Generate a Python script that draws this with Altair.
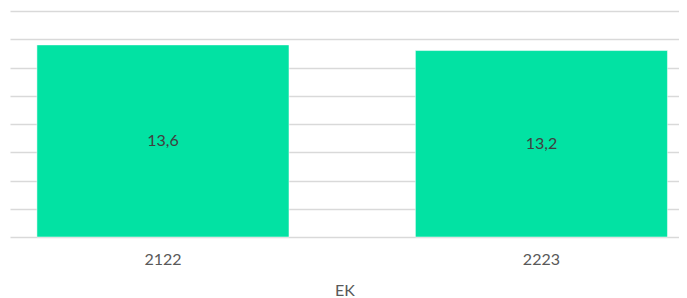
import altair as alt
import pandas as pd

categories = ["2122", "2223"]
values = [13.6, 13.2]
labels = ["13,6", "13,2"]
grid_values = [0, 2, 4, 6, 8, 10, 12, 14, 16]

df = pd.DataFrame({"cat": categories, "val": values, "label": labels})

FONT = "Lato"
YSCALE = alt.Scale(domain=[0, 16], nice=False)
YAXIS = alt.Axis(
    title=None,
    labels=False,
    ticks=False,
    domain=False,
    grid=True,
    gridColor="#D9D9D9",
    gridWidth=1.5,
    values=grid_values,
)

base = alt.Chart(df).encode(
    x=alt.X(
        "cat:N",
        title="EK",
        sort=categories,
        scale=alt.Scale(paddingInner=0.334, paddingOuter=0.0508, align=0.70),
        axis=alt.Axis(
            labelAngle=0,
            ticks=False,
            domain=False,
            grid=False,
            labelPadding=14,
            labelFontSize=16,
            labelColor="#595959",
            labelFont=FONT,
            titleFont=FONT,
            titleFontSize=16,
            titleFontWeight="normal",
            titleColor="#595959",
            titleY=61,
            titleBaseline="bottom",
        ),
    ),
)

bars = base.mark_bar(color="#02E2A3", stroke="#FFFFFF", strokeWidth=1, strokeOpacity=0.5).encode(
    y=alt.Y("val:Q", scale=YSCALE, axis=YAXIS)
)

text = base.mark_text(font=FONT, fontSize=16, color="#404040").encode(
    y=alt.Y("mid:Q", scale=YSCALE, axis=YAXIS),
    text="label:N",
).transform_calculate(mid="datum.val / 2")

chart = (
    alt.layer(bars, text)
    .properties(
        width=669,
        height=226,
        padding={"left": 2, "top": 3, "right": 0, "bottom": 61},
        autosize=alt.AutoSizeParams(type="none"),
    )
    .configure_view(stroke=None)
)

chart.save("out.html", embed_options={"renderer": "svg", "actions": False})
